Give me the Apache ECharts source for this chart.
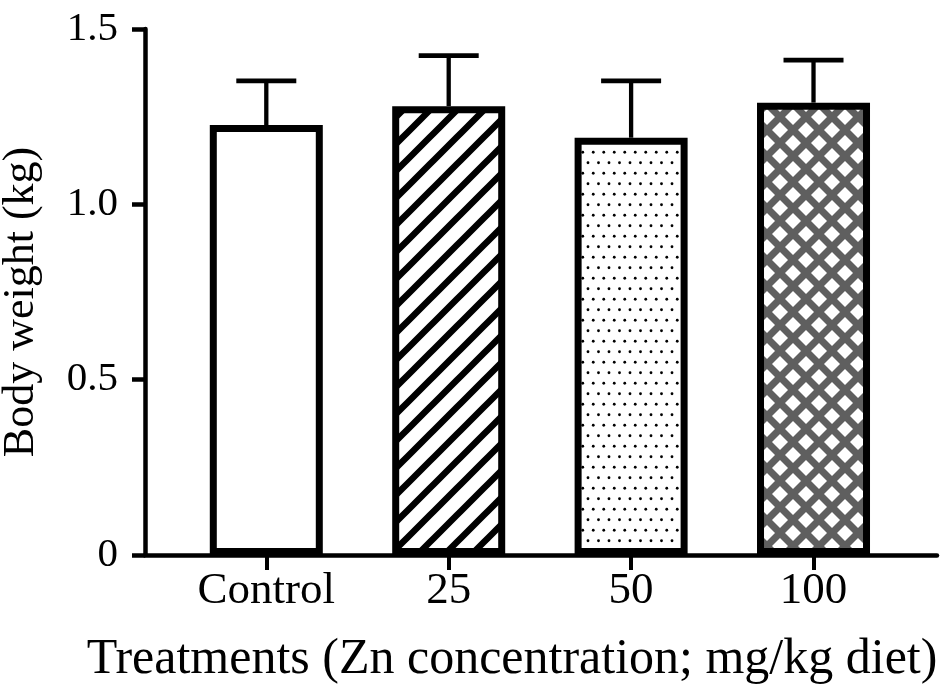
<!DOCTYPE html>
<html>
<head>
<meta charset="utf-8">
<script src="https://cdn.jsdelivr.net/npm/echarts@6/dist/echarts.min.js"></script>
<style>
html,body{margin:0;padding:0;background:#fff;}
#chart{width:950px;height:695px;}
</style>
</head>
<body>
<div id="chart"></div>
<script>
// ---- data ----
const categories = ['Control', '25', '50', '100'];
const means = [1.226, 1.280, 1.190, 1.290];
const errors = [0.126, 0.144, 0.162, 0.121];
const yTicks = [0, 0.5, 1.0, 1.5];
const positions = [0, 1, 2, 3];

// ---- fill patterns ----
function makeTile(w, h, draw) {
  const c = document.createElement('canvas');
  c.width = w; c.height = h;
  const ctx = c.getContext('2d');
  draw(ctx, w, h);
  return c;
}
const stripeTile = makeTile(27, 27, (ctx, w, h) => {
  ctx.fillStyle = '#fff'; ctx.fillRect(0, 0, w, h);
  ctx.strokeStyle = '#000'; ctx.lineWidth = 6.5;
  ctx.beginPath();
  ctx.moveTo(-6, 6); ctx.lineTo(6, -6);
  ctx.moveTo(-2, h + 2); ctx.lineTo(w + 2, -2);
  ctx.moveTo(w - 6, h + 6); ctx.lineTo(w + 6, h - 6);
  ctx.stroke();
});
const dotTile = makeTile(21, 21, (ctx, w, h) => {
  ctx.fillStyle = '#fff'; ctx.fillRect(0, 0, w, h);
  ctx.fillStyle = '#000';
  const pts = [[5.25, 5.25], [15.75, 5.25], [0, 15.75], [21, 15.75], [10.5, 15.75]];
  pts.forEach(p => { ctx.beginPath(); ctx.arc(p[0], p[1], 1.4, 0, Math.PI * 2); ctx.fill(); });
});
const hatchTile = makeTile(26, 26, (ctx, w, h) => {
  ctx.fillStyle = '#5f5f5f'; ctx.fillRect(0, 0, w, h);
  ctx.fillStyle = '#fff';
  const r = 8;
  const cs = [[13, 13], [0, 0], [26, 0], [0, 26], [26, 26]];
  cs.forEach(p => {
    ctx.beginPath();
    ctx.moveTo(p[0], p[1] - r); ctx.lineTo(p[0] + r, p[1]);
    ctx.lineTo(p[0], p[1] + r); ctx.lineTo(p[0] - r, p[1]);
    ctx.closePath(); ctx.fill();
  });
});
const fills = [
  '#ffffff',
  { image: stripeTile, repeat: 'repeat' },
  { image: dotTile, repeat: 'repeat' },
  { image: hatchTile, repeat: 'repeat' }
];

const FONT = 'Liberation Serif';
const chart = echarts.init(document.getElementById('chart'), null, { renderer: 'canvas' });

const barData = positions.map((p, i) => ({
  value: [p, means[i]],
  itemStyle: { color: fills[i], borderColor: '#000', borderWidth: 7 }
}));
const errData = positions.map((p, i) => [p, means[i], errors[i]]);

chart.setOption({
  animation: false,
  backgroundColor: '#fff',
  grid: { left: 145, right: 13, top: 29, bottom: 140, containLabel: false, outerBoundsMode: 'none' },
  xAxis: {
    type: 'value',
    min: -0.665,
    max: 3.677,
    splitLine: { show: false },
    axisLine: { show: true, onZero: false, lineStyle: { color: '#000', width: 4.5 } },
    axisTick: { show: true, customValues: positions, length: 15, lineStyle: { color: '#000', width: 4 } },
    axisLabel: {
      customValues: positions,
      formatter: v => categories[Math.round(v)],
      margin: 14,
      color: '#000',
      fontFamily: FONT,
      fontSize: 45
    },
    name: 'Treatments (Zn concentration; mg/kg diet)',
    nameLocation: 'middle',
    nameGap: 80,
    nameTextStyle: { color: '#000', fontFamily: FONT, fontSize: 50, padding: [0, 58, 0, 0] }
  },
  yAxis: {
    type: 'value',
    min: 0,
    max: 1.5,
    interval: 0.5,
    splitLine: { show: false },
    axisLine: { show: true, onZero: false, lineStyle: { color: '#000', width: 4.5 } },
    axisTick: { show: true, length: 13, lineStyle: { color: '#000', width: 4.5 } },
    axisLabel: {
      formatter: v => (v === 0 ? '0' : v.toFixed(1)),
      margin: 27,
      color: '#000',
      fontFamily: FONT,
      fontSize: 41
    },
    name: 'Body weight (kg)',
    nameLocation: 'middle',
    nameGap: 102,
    nameTextStyle: { color: '#000', fontFamily: FONT, fontSize: 44, padding: [0, 20, 0, 0] }
  },
  series: [
    {
      type: 'custom',
      z: 1,
      data: errData,
      renderItem: (params, api) => {
        const x = api.value(0), m = api.value(1), e = api.value(2);
        const b = api.coord([x, m]);
        const t = api.coord([x, m + e]);
        return {
          type: 'group',
          children: [
            { type: 'line', shape: { x1: b[0], y1: b[1], x2: t[0], y2: t[1] }, style: { stroke: '#000', lineWidth: 4.3 } },
            { type: 'line', shape: { x1: t[0] - 30, y1: t[1], x2: t[0] + 30, y2: t[1] }, style: { stroke: '#000', lineWidth: 4.8 } }
          ]
        };
      }
    },
    {
      type: 'bar',
      z: 2,
      barWidth: 113,
      data: barData
    }
  ]
});
</script>
</body>
</html>
